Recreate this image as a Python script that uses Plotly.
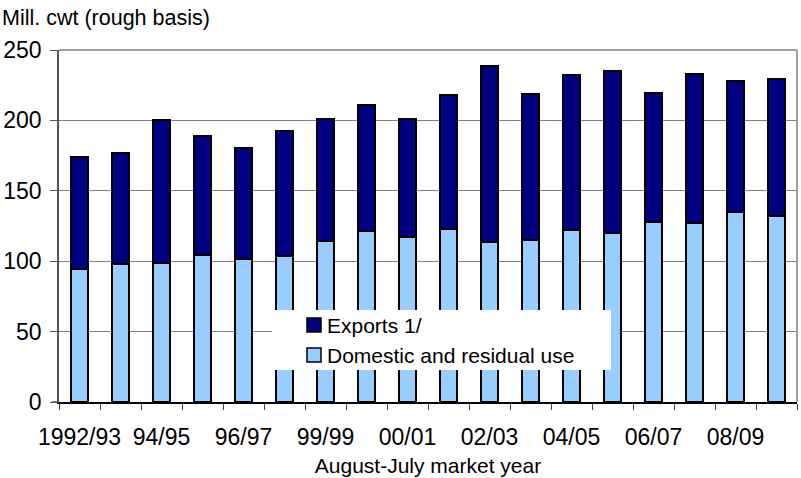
import plotly.graph_objects as go

# August-July market years
years = ["1992/93", "1993/94", "1994/95", "1995/96", "1996/97", "1997/98",
         "1998/99", "1999/00", "2000/01", "2001/02", "2002/03", "2003/04",
         "2004/05", "2005/06", "2006/07", "2007/08", "2008/09", "2009/10"]
year_labels = ["1992/93", "", "94/95", "", "96/97", "", "99/99", "", "00/01",
               "", "02/03", "", "04/05", "", "06/07", "", "08/09", ""]

# Mill. cwt, rough basis
domestic = [94.5, 97.8, 98.5, 104.6, 101.8, 103.7, 114.1, 121.7, 117.4,
            122.9, 113.4, 114.8, 122.2, 120.0, 128.1, 126.9, 134.7, 132.1]
exports = [79.5, 79.0, 101.8, 84.1, 78.4, 88.5, 86.9, 89.5, 83.6,
           95.4, 125.0, 104.0, 109.8, 115.1, 91.1, 105.8, 93.5, 97.3]

series_names = ["Exports 1/", "Domestic and residual use"]
dark_blue = "#000080"
light_blue = "#99ccff"
FONT = "Liberation Sans, Arial, sans-serif"

fig = go.Figure()
fig.add_trace(go.Bar(x=years, y=domestic, name=series_names[1],
                     marker=dict(color=light_blue, line=dict(color="black", width=2))))
fig.add_trace(go.Bar(x=years, y=exports, name=series_names[0],
                     marker=dict(color=dark_blue, line=dict(color="black", width=2))))

# plot-area geometry in pixels (for the hand-made legend box)
W, H = 801, 478
L, R, T, B = 59, 4, 50, 76
pw, ph = W - L - R, H - T - B


def px(x):
    return (x - L) / pw


def py(y):
    return (H - B - y) / ph


shapes = [
    # plot-area frame (top and right)
    dict(type="line", xref="paper", yref="paper", x0=0, x1=1, y0=1, y1=1,
         line=dict(color="#a0a0a0", width=2), layer="below"),
    dict(type="line", xref="paper", yref="paper", x0=1, x1=1, y0=0, y1=1,
         line=dict(color="#a0a0a0", width=2), layer="below"),
    # short stub of the category axis left of the value axis
    dict(type="line", xref="paper", yref="paper", x0=px(52), x1=0, y0=0, y1=0,
         line=dict(color="#555", width=1.5)),
    # legend box
    dict(type="rect", xref="paper", yref="paper", x0=px(272), x1=px(611),
         y0=py(370), y1=py(310), fillcolor="white", line=dict(width=0), layer="above"),
]
annotations = []
for i, (name, col, cy) in enumerate([(series_names[0], dark_blue, 325),
                                     (series_names[1], light_blue, 355)]):
    shapes.append(dict(type="rect", xref="paper", yref="paper",
                       x0=px(307), x1=px(321), y0=py(cy + 7), y1=py(cy - 7),
                       fillcolor=col, line=dict(color="black", width=1.5), layer="above"))
    annotations.append(dict(text=name, xref="paper", yref="paper", x=px(325), y=py(cy),
                            xanchor="left", yanchor="middle", showarrow=False,
                            font=dict(size=21, color="black", family=FONT)))

fig.update_layout(
    width=W, height=H,
    margin=dict(l=L, r=R, t=T, b=B),
    paper_bgcolor="white", plot_bgcolor="white",
    barmode="stack", bargap=0.6,
    showlegend=False,
    font=dict(family=FONT, color="black"),
    title=dict(text="Mill. cwt (rough basis)", x=2 / W, xref="container", xanchor="left",
               y=1 - 17 / H, yref="container", yanchor="middle",
               font=dict(size=21.5, color="black", family=FONT)),
    shapes=shapes,
    annotations=annotations,
)
fig.update_xaxes(
    type="category", tickmode="array", tickvals=years, ticktext=year_labels,
    tickson="boundaries", ticks="outside", ticklen=6, tickcolor="#444", tickwidth=1,
    tickangle=0, automargin=False, ticklabelstandoff=14,
    showline=True, linecolor="black", linewidth=1.5, showgrid=False,
    tickfont=dict(size=23, color="black"),
    title=dict(text="August-July market year", font=dict(size=21, color="black"), standoff=9),
)
fig.update_yaxes(
    range=[0, 250], dtick=50, ticks="outside", ticklen=7, tickcolor="#555",
    automargin=False, ticklabelstandoff=4,
    showline=True, linecolor="#555", linewidth=1.5,
    showgrid=True, gridcolor="#808080", gridwidth=1, zeroline=False,
    tickfont=dict(size=23, color="black"),
)

fig.write_html("out.html")
